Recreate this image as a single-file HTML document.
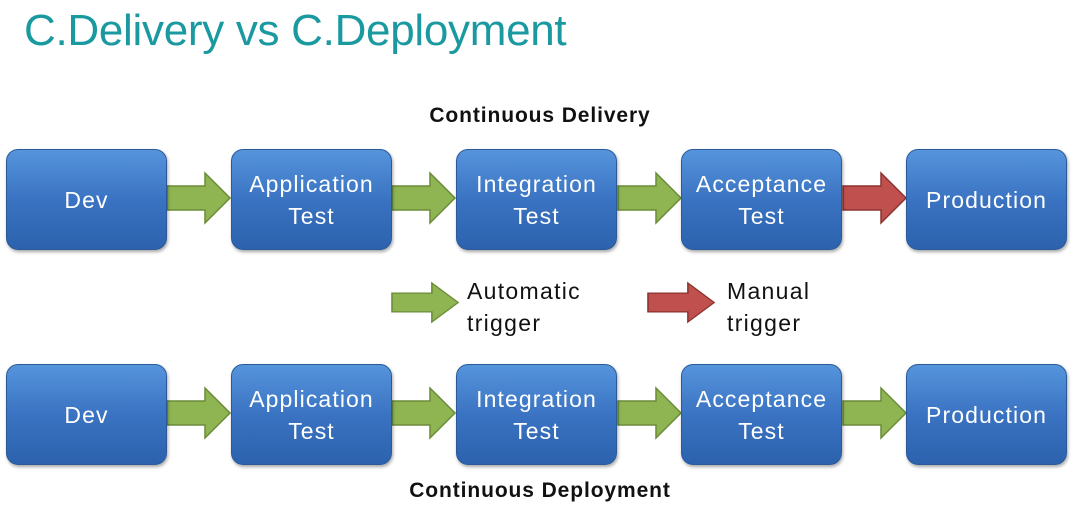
<!DOCTYPE html><html><head><style>
body{margin:0;width:1085px;height:522px;background:#fff;position:relative;overflow:hidden;font-family:"Liberation Sans",sans-serif}
.t{position:absolute;left:24px;top:6px;font-size:44px;color:#1a9aa0;letter-spacing:-0.3px}
.h{position:absolute;font-weight:bold;font-size:21px;color:#111;width:400px;text-align:center;letter-spacing:0.9px}
.b{position:absolute;width:161px;height:101px;border-radius:12px;background:linear-gradient(#5694dc,#3a73c2 50%,#2c62ad);border:1px solid #2a5a9a;box-shadow:1px 2px 3px rgba(0,0,0,.35);color:#fff;font-size:23px;letter-spacing:1.1px;display:flex;align-items:center;justify-content:center;text-align:center;line-height:32px;box-sizing:border-box}
svg{position:absolute;left:0;top:0}
.l{position:absolute;font-size:23px;letter-spacing:1.3px;color:#111;line-height:32px}
</style></head><body>
<div class="t">C.Delivery vs C.Deployment</div>
<div class="h" style="left:340px;top:104px">Continuous Delivery</div>
<div class="h" style="left:340px;top:479px">Continuous Deployment</div>
<svg width="1085" height="522">
<defs>
<g id="ga"><polygon points="0,13 38,13 38,0 63,25 38,50 38,37 0,37" fill="#8fb553" stroke="#6a8c38" stroke-width="1.5"/></g>
<g id="ra"><polygon points="0,13 38,13 38,0 63,25 38,50 38,37 0,37" fill="#c0504d" stroke="#8c3330" stroke-width="1.5"/></g>
</defs>
<use href="#ga" x="167" y="173"/><use href="#ga" x="392" y="173"/><use href="#ga" x="618" y="173"/><use href="#ra" x="843" y="173"/>
<use href="#ga" x="167" y="388"/><use href="#ga" x="392" y="388"/><use href="#ga" x="618" y="388"/><use href="#ga" x="843" y="388"/>
<g transform="translate(392,283) scale(1.05,0.78)"><use href="#ga"/></g>
<g transform="translate(648,283) scale(1.05,0.78)"><use href="#ra"/></g>
</svg>
<div class="b" style="left:6px;top:149px">Dev</div>
<div class="b" style="left:231px;top:149px">Application<br>Test</div>
<div class="b" style="left:456px;top:149px">Integration<br>Test</div>
<div class="b" style="left:681px;top:149px">Acceptance<br>Test</div>
<div class="b" style="left:906px;top:149px">Production</div>
<div class="b" style="left:6px;top:364px">Dev</div>
<div class="b" style="left:231px;top:364px">Application<br>Test</div>
<div class="b" style="left:456px;top:364px">Integration<br>Test</div>
<div class="b" style="left:681px;top:364px">Acceptance<br>Test</div>
<div class="b" style="left:906px;top:364px">Production</div>
<div class="l" style="left:467px;top:275px">Automatic<br>trigger</div>
<div class="l" style="left:727px;top:275px">Manual<br>trigger</div>
</body></html>
